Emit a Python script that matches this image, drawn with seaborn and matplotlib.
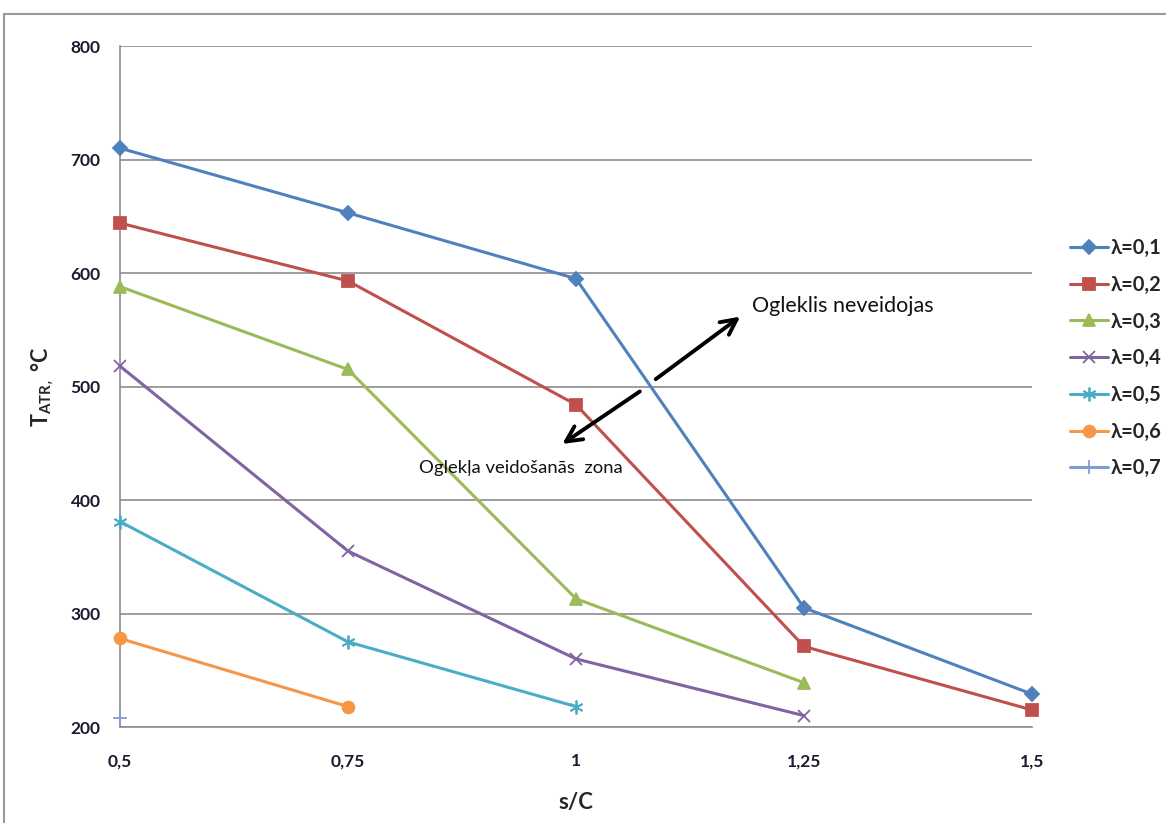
import matplotlib.pyplot as plt
import numpy as np
import pandas as pd
import seaborn as sns
from matplotlib.patches import Rectangle

# categories on the x axis (s/C)
x_labels = ["0,5", "0,75", "1", "1,25", "1,5"]

# T_ATR values, one list per lambda
lam_labels = ["λ=0,1", "λ=0,2", "λ=0,3", "λ=0,4", "λ=0,5", "λ=0,6", "λ=0,7"]
lam01 = [710, 653, 595, 305, 229]
lam02 = [644, 593, 484, 271, 215]
lam03 = [588, 515, 313, 239]
lam04 = [518, 355, 260, 210]
lam05 = [381, 275, 218]
lam06 = [278, 218]
lam07 = [208]

series = [lam01, lam02, lam03, lam04, lam05, lam06, lam07]
colors = ["#4F81BD", "#C0504D", "#9BBB59", "#8064A2", "#4BACC6", "#F79646", "#7F9FD3"]
markers = ["D", "s", "^", "x", (6, 2, 0), "o", "+"]
msizes = [7, 8.5, 8.5, 9, 10, 8.5, 10]

rows = []
for lab, vals in zip(lam_labels, series):
    for i, v in enumerate(vals):
        rows.append({"lam": lab, "x": i, "T": v})
df = pd.DataFrame(rows)

sns.set_style("white")
plt.rcParams["font.family"] = ["Lato", "DejaVu Sans"]

fig = plt.figure(figsize=(11.66, 8.23), dpi=100)
ax = fig.add_axes([120 / 1166, 1 - 727 / 823, (1032 - 120) / 1166, (727 - 46) / 823])

for lab, c, m, ms in zip(lam_labels, colors, markers, msizes):
    sub = df[df["lam"] == lab]
    sns.lineplot(data=sub, x="x", y="T", ax=ax, color=c, marker=m, markersize=ms,
                 markeredgecolor=c, markeredgewidth=1.3, linewidth=2.2, label=lab,
                 clip_on=False, zorder=3)

ax.set_xlim(0, len(x_labels) - 1)
ax.set_ylim(200, 800)
ax.set_yticks(np.arange(200, 801, 100))
ax.set_xticks(range(len(x_labels)))
ax.set_xticklabels(x_labels)
ax.yaxis.grid(True, color="#8c8c8c", linewidth=1.2)
ax.xaxis.grid(False)
for s in ["top", "right"]:
    ax.spines[s].set_visible(False)
for s in ["left", "bottom"]:
    ax.spines[s].set_color("#8c8c8c")
    ax.spines[s].set_linewidth(1.2)
ax.tick_params(axis="both", direction="out", length=6, width=1.2, color="#8c8c8c",
               labelsize=12.5, labelcolor="#1a1a2e")
for lbl in ax.get_xticklabels() + ax.get_yticklabels():
    lbl.set_fontweight("bold")
ax.tick_params(axis="x", pad=13)
ax.tick_params(axis="y", pad=8)

ax.set_xlabel("s/C", fontsize=16, fontweight="bold", labelpad=16)
ax.set_ylabel(r"T$_{\mathregular{ATR},}$ °C", fontsize=15.5, fontweight="bold", labelpad=10)

# annotation arrows and texts
arrow = dict(arrowstyle="->", lw=2.8, color="black", mutation_scale=28)
ax.annotate("", xy=(1.93, 448), xytext=(2.29, 497), arrowprops=arrow)
ax.annotate("", xy=(2.73, 563), xytext=(2.34, 505), arrowprops=arrow)
ax.text(2.77, 571, "Ogleklis neveidojas", fontsize=15.5, va="center", ha="left", color="#111111")
ax.text(1.31, 428, "Oglekļa veidošanās  zona", fontsize=13.3, va="center", ha="left", color="#111111")

leg = ax.legend(loc="upper left", bbox_to_anchor=(1062 / 1166, 1 - 230 / 823),
                bbox_transform=fig.transFigure, frameon=False, fontsize=14.5,
                labelspacing=0.83, handlelength=1.9, handletextpad=0.1, borderaxespad=0)
for t in leg.get_texts():
    t.set_fontweight("bold")

# outer chart border
fig.patches.append(Rectangle((4 / 1166, -0.1), 1.2, 1.1 - 14 / 823, transform=fig.transFigure,
                             fill=False, edgecolor="#9a9a9a", linewidth=1.5))

fig.savefig("out.png", dpi=100)
